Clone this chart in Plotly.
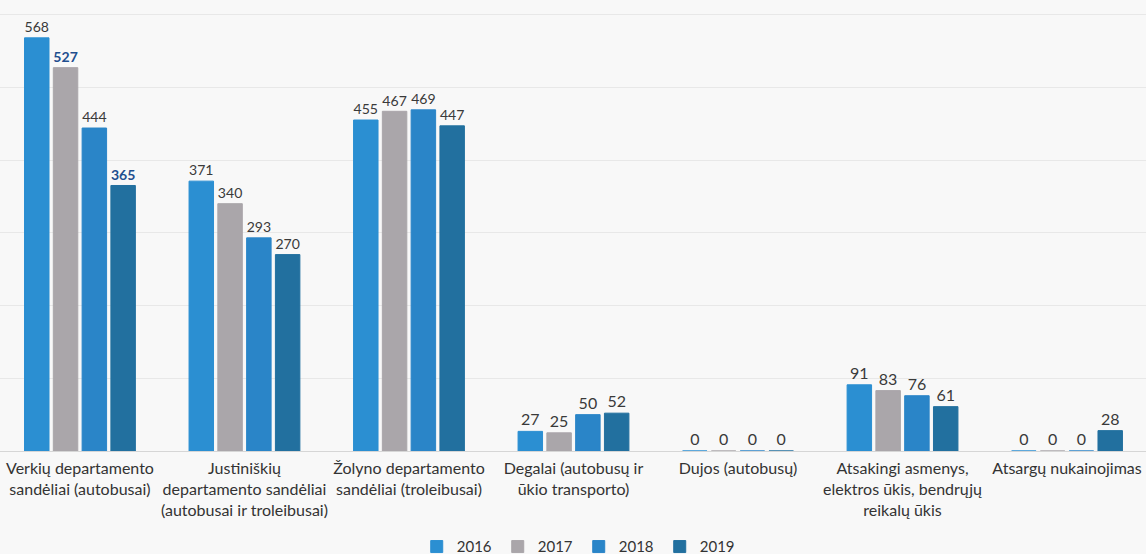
import plotly.graph_objects as go

categories = [
    "Verkių departamento<br>sandėliai (autobusai)",
    "Justiniškių<br>departamento sandėliai<br>(autobusai ir troleibusai)",
    "Žolyno departamento<br>sandėliai (troleibusai)",
    "Degalai (autobusų ir<br>ūkio transporto)",
    "Dujos (autobusų)",
    "Atsakingi asmenys,<br>elektros ūkis, bendrųjų<br>reikalų ūkis",
    "Atsargų nukainojimas",
]
years = ["2016", "2017", "2018", "2019"]
v2016 = [568, 371, 455, 27, 0, 91, 0]
v2017 = [527, 340, 467, 25, 0, 83, 0]
v2018 = [444, 293, 469, 50, 0, 76, 0]
v2019 = [365, 270, 447, 52, 0, 61, 28]
series = [v2016, v2017, v2018, v2019]
colors = ["#2b8fd2", "#aaa6aa", "#2a85c8", "#22709f"]

# highlighted labels (bold dark blue) in reference
highlight = {(1, 0), (3, 0)}

fig = go.Figure()
for si, (yr, vals, col) in enumerate(zip(years, series, colors)):
    texts, sizes, tcols = [], [], []
    for ci, v in enumerate(vals):
        if (si, ci) in highlight:
            texts.append(f"<b>{v}</b>")
            sizes.append(21)
            tcols.append("#1f4f8f")
        else:
            texts.append(str(v))
            sizes.append(16)
            tcols.append("#3a3a3a")
    fig.add_trace(go.Bar(
        name=yr, x=list(range(len(categories))), y=vals,
        marker=dict(color=col, line=dict(color=col, width=1)),
        text=texts, textposition="outside", cliponaxis=False,
        textfont=dict(family="Lato", size=sizes, color=tcols),
    ))

fig.update_layout(
    width=1146, height=554,
    paper_bgcolor="#f8f8f8", plot_bgcolor="#f8f8f8",
    barmode="group", bargap=0.3, bargroupgap=0.15,
    margin=dict(l=0, r=0, t=0, b=103),
    font=dict(family="Lato", color="#333333", size=16),
    showlegend=True,
    legend=dict(orientation="h", x=0.505, xanchor="center",
                xref="container", yref="container", y=0.013, yanchor="middle",
                font=dict(size=15, color="#333333"), itemwidth=30,
                entrywidth=36, entrywidthmode="pixels",
                traceorder="normal"),
    xaxis=dict(tickmode="array", tickvals=list(range(len(categories))),
               ticktext=categories, range=[-0.486, 6.48],
               showgrid=False, zeroline=False, showline=False, ticks="",
               ticklabelstandoff=6,
               tickfont=dict(size=16, color="#333333")),
    yaxis=dict(range=[0, 620], showticklabels=False, dtick=100,
               showgrid=True, gridcolor="#e8e8e8", gridwidth=1,
               zeroline=True, zerolinecolor="#d6d6d6", zerolinewidth=1),
)
fig.write_html(
    "out.html",
    config={"displayModeBar": False},
    post_script="document.body.style.margin='0';document.body.style.background='#f8f8f8';",
)
